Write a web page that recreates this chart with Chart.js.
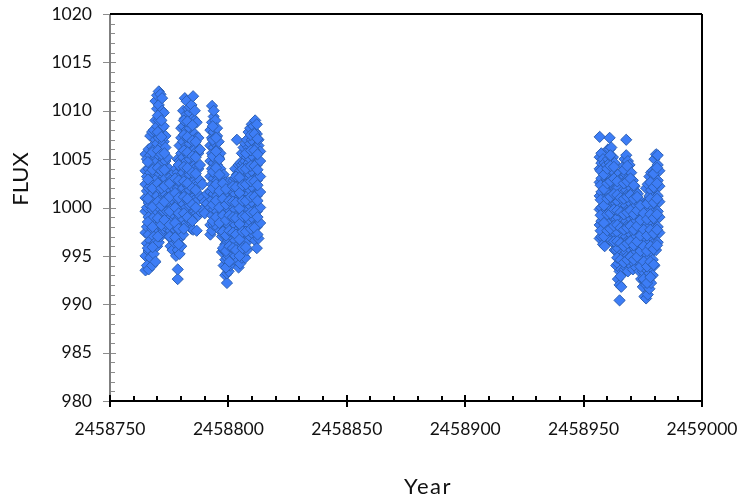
<!DOCTYPE html>
<html lang="en">
<head>
    <meta charset="UTF-8">
    <title>FLUX</title>
    <style>
        body { margin:0; background:#fff; }
    </style>
    <script src="https://cdnjs.cloudflare.com/ajax/libs/Chart.js/4.4.1/chart.umd.min.js"></script>
</head>
<body>
    <canvas id="fluxChart" width="738" height="497"></canvas>
<script>
    // values, one row of flux readings per observing day
    const firstDays = [
        765, 765.6, 766.3, 767, 767.8, 768.5, 769.2, 769.9, 770.6, 771.3,
        772, 772.7, 773.4, 774.1, 774.9, 775.6, 776.4, 777.1, 777.9, 778.6,
        779.4, 780.1, 780.9, 781.6, 782.3, 783, 783.7, 784.4, 785.1, 785.8,
        786.6, 787.3, 788, 789, 790, 791, 792.4, 793.1, 793.8, 794.5,
        795.2, 795.9, 796.6, 797.3, 798, 798.7, 799.4, 800.1, 800.8, 801.5,
        802.2, 802.9, 803.6, 804.3, 805, 805.7, 806.4, 807.1, 807.8, 808.5,
        809.2, 809.9, 810.6, 811.3, 812, 812.7, 813.4
    ];
    const firstFlux = [
        [993.5, 995, 997.4, 999.6, 1001, 1002.4, 1003.8, 1005.5],
        [994, 996.3, 998, 1000, 1001.7, 1003.2, 1005],
        [993.6, 995.5, 997.2, 999, 1000.5, 1002, 1004, 1006],
        [994.8, 996.6, 998.6, 1000.2, 1002.2, 1003.6, 1005.4, 1007.4],
        [994, 996, 997.8, 999.8, 1001.4, 1003, 1004.8, 1006.3, 1007.8],
        [995.2, 997, 999, 1000.8, 1002.6, 1004.2, 1006, 1008],
        [994.4, 996.4, 998.2, 1000, 1001.8, 1003.4, 1005.2, 1007, 1009, 1011],
        [996, 997.8, 999.6, 1001.2, 1003, 1004.8, 1006.6, 1008.4, 1010.2, 1011.6],
        [996.4, 998.2, 1000, 1002, 1003.6, 1005.4, 1007.2, 1009, 1010.6, 1012],
        [997, 998.8, 1000.8, 1002.6, 1004.4, 1006, 1007.8, 1009.6, 1011.7],
        [997.4, 999.4, 1001, 1002.8, 1004.6, 1006.4, 1008.2, 1010, 1011.3],
        [997.8, 999.6, 1001.4, 1003.2, 1005, 1006.8, 1008.4, 1009.8],
        [998, 999.8, 1001.4, 1003, 1004.8, 1006.2, 1007.4],
        [998.2, 999.6, 1001, 1002.4, 1004, 1005.2],
        [997, 998.4, 999.8, 1001.2, 1002.6, 1004],
        [996, 997.6, 999, 1000.4, 1001.8, 1003.2],
        [995.6, 997, 998.6, 1000, 1001.4, 1003],
        [996.4, 997.8, 999.2, 1000.6, 1002, 1003.6],
        [995, 996.6, 998, 999.6, 1001, 1002.6, 1004],
        [992.6, 993.6, 995.6, 997.2, 998.8, 1000.4, 1002, 1003.6, 1005],
        [995.2, 996.8, 998.4, 1000, 1001.6, 1003.2, 1004.8, 1006.4],
        [996, 997.6, 999.2, 1000.8, 1002.4, 1004, 1005.6, 1007.2, 1008.2],
        [997.2, 998.8, 1000.4, 1002, 1003.6, 1005.2, 1006.8, 1008.4, 1010],
        [998, 999.6, 1001.2, 1002.8, 1004.4, 1006, 1007.6, 1009.2, 1011.3],
        [998.4, 1000, 1001.6, 1003.2, 1004.8, 1006.4, 1008, 1009.6, 1011],
        [999, 1000.6, 1002.2, 1003.8, 1005.4, 1007, 1008.6, 1010.2],
        [998.6, 1000.2, 1001.8, 1003.4, 1005, 1006.6, 1008.2, 1009.8, 1010.4],
        [997.8, 999.4, 1001, 1002.6, 1004.2, 1005.8, 1007.4, 1009, 1010.6],
        [997.7, 999.4, 1001.2, 1002.8, 1004.4, 1006, 1007.6, 1009.2, 1011.5],
        [999.6, 1001.2, 1002.8, 1004.4, 1006, 1007.6, 1009, 1010],
        [997.6, 999.4, 1001, 1002.6, 1004.2, 1005.8, 1007.2, 1008.8],
        [999.2, 1000.8, 1002.4, 1004, 1005.6, 1007.2],
        [999.6, 1001.2, 1002.8, 1004.4, 1006],
        [999.8, 1001, 1002.4],
        [999.4, 1000.6],
        [1000.4, 1001.4],
        [997.2, 998.2, 1000, 1001.6, 1003.2, 1004.8, 1006.4, 1008],
        [997.6, 999.2, 1000.8, 1002.4, 1004, 1005.6, 1007.2, 1008.8, 1010.5],
        [998.2, 999.8, 1001.4, 1003, 1004.6, 1006.2, 1007.8, 1009.4, 1010],
        [998.6, 1000.2, 1001.8, 1003.4, 1005, 1006.6, 1008.2, 1009],
        [998, 999.6, 1001.2, 1002.8, 1004.4, 1006, 1007.4, 1008.2],
        [998.8, 1000.4, 1002, 1003.6, 1005.2, 1006.8],
        [997.6, 999.2, 1000.8, 1002.4, 1004, 1005.6],
        [995.4, 997, 998.6, 1000.2, 1001.8, 1003.2],
        [994, 995.6, 997.2, 998.8, 1000.4, 1002, 1003.4],
        [993, 994.6, 996.2, 997.8, 999.4, 1001, 1002.6],
        [992.2, 993.2, 994.8, 996.4, 998, 999.6, 1001.2, 1002.4],
        [993.4, 995, 996.6, 998.2, 999.8, 1001.4, 1002.6],
        [994, 995.6, 997.2, 998.8, 1000.4, 1001.8],
        [994.6, 996.2, 997.8, 999.4, 1001, 1002],
        [995.2, 996.8, 998.4, 1000, 1001.6, 1002.8],
        [995, 996.6, 998.2, 999.8, 1001.4, 1003, 1004],
        [994.4, 996, 997.6, 999.2, 1000.8, 1002.4, 1003.4, 1007],
        [993.8, 995.4, 997, 998.6, 1000.2, 1001.8, 1003.4, 1004.4],
        [994.2, 995.8, 997.4, 999, 1000.6, 1002.2, 1003.8, 1004.6],
        [994.8, 996.4, 998, 999.6, 1001.2, 1002.8, 1004.4, 1005.6],
        [995, 996.6, 998.2, 999.8, 1001.4, 1003, 1004.6, 1006.2],
        [994.8, 996.6, 998.4, 1000, 1001.6, 1003.2, 1004.8, 1006.6],
        [995.6, 997.2, 998.8, 1000.4, 1002, 1003.6, 1005.2, 1007],
        [996.6, 998.2, 999.8, 1001.4, 1003, 1004.6, 1006.2, 1007.8],
        [997, 998.6, 1000.2, 1001.8, 1003.4, 1005, 1006.6, 1008.2],
        [997.4, 999, 1000.6, 1002.2, 1003.8, 1005.4, 1007, 1008.6],
        [997.2, 998.8, 1000.4, 1002, 1003.6, 1005.2, 1006.8, 1008.4],
        [996.6, 998.2, 999.8, 1001.4, 1003, 1004.6, 1006.2, 1007.8, 1009],
        [995.8, 998, 999.6, 1001.2, 1002.8, 1004.4, 1006, 1007.6, 1008.6],
        [996.8, 998.4, 1000, 1001.6, 1003.2, 1004.8, 1006.4, 1007],
        [998.4, 1000, 1001.6, 1003.2, 1004.8, 1005.8]
    ];
    const secondDays = [
        956.8, 957.5, 958.2, 958.9, 959.6, 960.3, 961, 961.7, 962.4, 963.1,
        963.8, 964.5, 965.2, 965.9, 966.6, 967.3, 968, 968.7, 969.4, 970.1,
        970.8, 971.5, 972.2, 972.9, 973.6, 974.3, 975, 975.7, 976.4, 977.1,
        977.8, 978.5, 979.2, 979.9, 980.6, 981.3, 982
    ];
    const secondFlux = [
        [996.8, 998.2, 999.8, 1001.2, 1002.6, 1004, 1005.2, 1007.3],
        [997, 998.6, 1000, 1001.6, 1003, 1004.6, 1005.6],
        [996.2, 997.8, 999.4, 1000.8, 1002.4, 1003.8, 1005],
        [996, 997.6, 999, 1000.6, 1002, 1003.6, 1004.6],
        [997, 998.6, 1000, 1001.6, 1003, 1004.4],
        [997.4, 999, 1000.4, 1002, 1003.4, 1005, 1006],
        [996.8, 998.4, 1000, 1001.4, 1003, 1004.6, 1006, 1007.2],
        [997.6, 999.2, 1000.6, 1002.2, 1003.8, 1005.2, 1006.2],
        [996.4, 998, 999.6, 1001, 1002.6, 1004.2, 1005.2],
        [995.6, 997.2, 998.8, 1000.4, 1002, 1003.6, 1004.6],
        [994, 995.6, 997.2, 998.8, 1000.4, 1002, 1003.2],
        [992.6, 994.2, 995.8, 997.4, 999, 1000.6, 1002, 1003.4],
        [990.4, 992, 993.4, 995, 996.6, 998.2, 999.8, 1001.4],
        [991.8, 993.6, 995.2, 996.8, 998.4, 1000, 1001.6, 1003],
        [993.4, 995, 996.6, 998.2, 999.8, 1001.4, 1003, 1004.2],
        [993.6, 995.2, 996.8, 998.4, 1000, 1001.6, 1003.2, 1005],
        [993.8, 995.4, 997, 998.6, 1000.2, 1001.8, 1003.4, 1005.4, 1007],
        [993.4, 995, 996.6, 998.2, 999.8, 1001.4, 1003, 1004.8],
        [994.4, 996, 997.6, 999.2, 1000.8, 1002.4, 1004.4],
        [994, 995.6, 997.2, 998.8, 1000.4, 1002, 1003.6],
        [993.6, 995.2, 996.8, 998.4, 1000, 1001.6, 1002.8],
        [994.2, 995.8, 997.4, 999, 1000.6, 1002.2],
        [993.8, 995.4, 997, 998.6, 1000.2, 1001.6],
        [994.4, 996, 997.6, 999.2, 1000.6, 1001.4],
        [993.4, 995, 996.6, 998.2, 999.8, 1000.8],
        [992.6, 994.2, 995.8, 997.4, 999, 1000.2],
        [991.8, 993.4, 995, 996.6, 998.2, 999.6],
        [990.8, 992.4, 994, 995.6, 997.2, 998.8, 1000],
        [990.6, 992, 993.6, 995.2, 996.8, 998.4, 1000.6, 1002],
        [991, 992.6, 994.2, 995.8, 997.4, 999, 1000.6, 1002.4],
        [991.6, 993.2, 994.8, 996.4, 998, 999.6, 1001.2, 1003.2],
        [992.2, 993.8, 995.4, 997, 998.6, 1000.2, 1001.8, 1003.6],
        [993, 994.6, 996.2, 997.8, 999.4, 1001, 1002.6, 1003.8],
        [994, 995.6, 997.2, 998.8, 1000.4, 1002, 1003.6, 1005],
        [995.6, 997.2, 998.8, 1000.4, 1002, 1003.6, 1005.5],
        [996.4, 998, 999.6, 1001.2, 1002.8, 1004.4, 1005.4],
        [997.4, 999, 1000.6, 1002.2, 1003.8]
    ];
    // readings in between, inside the dense part of each block
    const innerDays = [
        766, 768, 770.2, 771.7, 773, 775.2, 777.5, 779, 781.2, 782.7,
        784.8, 786.2, 793.4, 794.8, 796.2, 797.7, 799, 800.4, 801.9, 803.2,
        804.7, 806, 807.4, 809.5, 811, 812.3,
        957.2, 958.6, 960, 961.3, 962.8, 964.2, 965.6, 967, 968.4, 969.8,
        971.2, 972.6, 974, 975.4, 976.8, 978.2, 979.6, 981
    ];
    const innerFlux = [
        [995.8, 998.5, 1000.9, 1002.9, 1004.7],
        [995.9, 998, 1000.1, 1002, 1003.9, 1005.7],
        [997, 998.9, 1000.6, 1002.5, 1004.1, 1005.9, 1007.8, 1009.5],
        [998.2, 1000.2, 1002, 1003.8, 1005.5, 1007.3, 1009],
        [998.7, 1000.6, 1002.2, 1003.9, 1005.6],
        [997, 998.2, 999.6, 1001.1, 1002.5],
        [996.9, 998.4, 1000, 1001.5, 1003],
        [996.2, 997.8, 999.4, 1001, 1002.8, 1004.4],
        [997.8, 999.4, 1001.1, 1002.7, 1004.2, 1005.9, 1007.5, 1009],
        [999, 1000.9, 1002.5, 1004.1, 1005.7, 1007.3, 1008.9],
        [998.6, 1000.3, 1002, 1003.6, 1005.3, 1006.9, 1008.5],
        [1000, 1001.8, 1003.5, 1005.2, 1006.8],
        [998.6, 1000.3, 1002, 1003.7, 1005.3, 1007, 1008.4],
        [999, 1000.7, 1002.4, 1004.1, 1005.8, 1007.2],
        [998.4, 1000, 1001.7, 1003.4, 1005],
        [995.8, 997.5, 999.2, 1000.9, 1002.5],
        [993.8, 995.5, 997.1, 998.7, 1000.3, 1001.9],
        [994.4, 996, 997.6, 999.2, 1000.7],
        [995.8, 997.4, 999, 1000.6, 1002.2],
        [995.6, 997.2, 998.9, 1000.5, 1002.1, 1003.2],
        [995, 996.7, 998.3, 999.9, 1001.5, 1003.1],
        [995.8, 997.5, 999.1, 1000.7, 1002.3, 1004],
        [995.9, 997.5, 999.1, 1000.7, 1002.4, 1004, 1005.6],
        [997.8, 999.5, 1001.1, 1002.7, 1004.3, 1005.9, 1007.5],
        [997.9, 999.5, 1001.1, 1002.7, 1004.3, 1005.9, 1007.6],
        [997.2, 999, 1000.7, 1002.3, 1003.9, 1005.5, 1007.1],
        [997.6, 999.2, 1000.8, 1002.3, 1003.8],
        [997, 998.4, 1000.2, 1001.9, 1003.4],
        [997.6, 999.3, 1000.9, 1002.5, 1004],
        [997.8, 999.4, 1001.1, 1002.7, 1004.3, 1005.4],
        [996.5, 998.1, 999.8, 1001.4, 1003, 1004.2],
        [994.8, 996.5, 998.2, 999.7, 1001.3, 1002.7],
        [992.9, 994.6, 996.3, 997.9, 999.5, 1001],
        [994.3, 996, 997.7, 999.3, 1000.9, 1002.5, 1003.9],
        [994.6, 996.3, 997.9, 999.5, 1001.1, 1002.7, 1004.3],
        [994.9, 996.5, 998.1, 999.7, 1001.3, 1003],
        [994.6, 996.1, 997.7, 999.3, 1000.9, 1002.3],
        [994.9, 996.5, 998.1, 999.7, 1001.1],
        [993.9, 995.5, 997.1, 998.7, 1000.2],
        [992.6, 994.4, 996, 997.7, 999.4],
        [992.2, 993.9, 995.5, 997.1, 998.8, 1000.4],
        [992.8, 994.4, 996, 997.7, 999.3, 1000.9, 1002.6],
        [994.1, 995.7, 997.3, 998.9, 1000.5, 1002.1, 1003.5],
        [996.1, 997.7, 999.3, 1000.9, 1002.5, 1004.1]
    ];
    const xLabels = [2458750, 2458800, 2458850, 2458900, 2458950, 2459000];
    const yLabels = [980, 985, 990, 995, 1000, 1005, 1010, 1015, 1020];

    // turn the rows above into chart points
    function toPoints(days, rows) {
        const pts = [];
        days.forEach((d, i) => {
            rows[i].forEach(f => pts.push({ x: 2458000 + d, y: f }));
        });
        return pts;
    }

    // the plot box is fixed, so drop the room chart.js keeps for overhanging labels
    function noMargins(s) {
        s.paddingTop = 0;
        s.paddingBottom = 0;
        s.paddingLeft = 0;
        s.paddingRight = 0;
    }

    // ticks, frame and axis titles in the spreadsheet style of the original
    const frame = {
        id: 'frame',
        beforeDatasetsDraw(chart) {
            const c = chart.ctx, a = chart.chartArea;
            const xs = chart.scales.x, ys = chart.scales.y;
            c.save();

            c.strokeStyle = '#8c8c8c';
            c.lineWidth = 1;
            ys.ticks.forEach(t => {
                const y = Math.round(ys.getPixelForValue(t.value)) + 0.5;
                const major = yLabels.includes(t.value);
                c.beginPath();
                c.moveTo(a.left - (major ? 7 : 0), y);
                c.lineTo(a.left + (major ? 6 : 5), y);
                c.stroke();
            });
            c.strokeStyle = '#7f7f7f';
            c.lineWidth = 2;
            c.beginPath();
            c.moveTo(a.left, a.top);
            c.lineTo(a.left, a.bottom);
            c.stroke();

            c.strokeStyle = '#000';
            c.lineWidth = 2;
            c.beginPath();
            c.moveTo(a.left, a.top);
            c.lineTo(a.right, a.top);
            c.moveTo(a.right, a.top);
            c.lineTo(a.right, a.bottom);
            c.moveTo(a.left, a.bottom);
            c.lineTo(a.right, a.bottom);
            c.stroke();
            xs.ticks.forEach(t => {
                const x = Math.round(xs.getPixelForValue(t.value));
                const major = xLabels.includes(t.value);
                c.beginPath();
                c.moveTo(x, a.bottom - (major ? 6 : 5));
                c.lineTo(x, a.bottom + (major ? 6 : 0));
                c.stroke();
            });
            c.restore();
        },
        afterDraw(chart) {
            const c = chart.ctx;
            c.save();
            c.fillStyle = '#111';
            c.font = '22px Lato';
            c.textAlign = 'center';
            c.textBaseline = 'middle';
            c.letterSpacing = '1.5px';
            c.fillText('Year', 428, 487);
            c.letterSpacing = '0px';
            c.translate(21, 179);
            c.rotate(-Math.PI / 2);
            c.fillText('FLUX', 0, 0);
            c.restore();
        }
    };

    const chart = new Chart(document.getElementById('fluxChart').getContext('2d'), {
        type: 'scatter',
        data: {
            datasets: [{
                label: 'FLUX',
                data: toPoints(firstDays, firstFlux)
                    .concat(toPoints(secondDays, secondFlux))
                    .concat(toPoints(innerDays, innerFlux)),
                pointStyle: 'rectRot',
                radius: 5.6,
                backgroundColor: '#3d7df6',
                borderColor: '#2c5fb4',
                borderWidth: 1
            }]
        },
        options: {
            responsive: false,
            animation: false,
            layout: { padding: { top: 14, right: 36 } },
            plugins: { legend: { display: false }, tooltip: { enabled: false } },
            scales: {
                x: {
                    type: 'linear',
                    min: 2458750,
                    max: 2459000,
                    afterFit(s) { s.height = 96; noMargins(s); },
                    grid: { display: false },
                    border: { display: false },
                    ticks: {
                        stepSize: 10,
                        autoSkip: false,
                        maxRotation: 0,
                        padding: 10,
                        color: '#111',
                        font: { family: 'Lato', size: 17.5 },
                        callback: v => xLabels.includes(v) ? String(v) : ''
                    }
                },
                y: {
                    min: 980,
                    max: 1020,
                    afterFit(s) { s.width = 110; noMargins(s); },
                    grid: { display: false },
                    border: { display: false },
                    ticks: {
                        stepSize: 1,
                        autoSkip: false,
                        padding: 10,
                        color: '#111',
                        font: { family: 'Lato', size: 17.5 },
                        callback: v => yLabels.includes(v) ? String(v) : ''
                    }
                }
            }
        },
        plugins: [frame]
    });
</script>
</body>
</html>
